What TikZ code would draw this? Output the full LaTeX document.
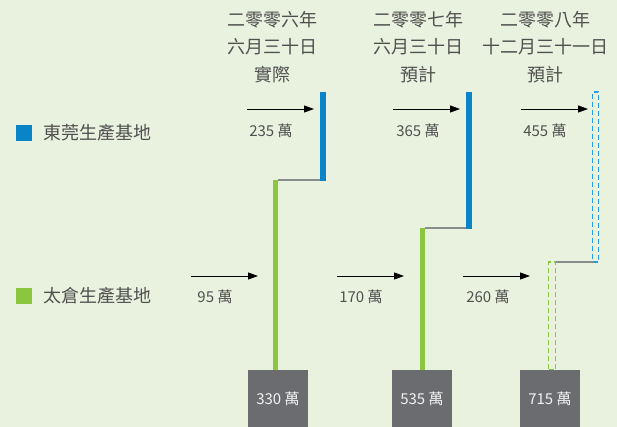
\documentclass[tikz,border=0pt]{standalone}
\usepackage{fontspec}
\setmainfont{Noto Sans CJK TC}
\usetikzlibrary{arrows.meta}
\definecolor{bg}{HTML}{E9F2DE}
\definecolor{dgblue}{HTML}{0A84C9}
\definecolor{dgblued}{HTML}{2C9BDB}
\definecolor{tcgreen}{HTML}{8CC63F}
\definecolor{linkgray}{HTML}{8A8C8A}
\definecolor{boxgray}{HTML}{6B6C70}
\definecolor{txt}{HTML}{505050}
\begin{document}
\begin{tikzpicture}[x=1pt,y=-1pt,
  bar/.style={inner sep=0pt, outer sep=0pt, anchor=north},
  bluebar/.style={bar, fill=dgblue, minimum width=6pt},
  greenbar/.style={bar, fill=tcgreen, minimum width=5pt},
  bluedash/.style={bar, draw=dgblued, line width=1.8pt, dash pattern=on 5pt off 3pt, minimum width=6pt},
  greendash/.style={bar, draw=tcgreen, line width=1.8pt, dash pattern=on 5pt off 3pt, minimum width=7pt},
  link/.style={draw=linkgray, line width=1.2pt},
  flow/.style={draw=black, line width=0.9pt, -{Triangle[length=10pt,width=7pt]}},
  totbox/.style={fill=boxgray, minimum width=60pt, minimum height=57pt, inner sep=0pt, text=white!90!gray, font=\fontsize{15}{15}\selectfont},
  amount/.style={text=txt, font=\fontsize{15}{15}\selectfont, inner sep=0pt},
  head/.style={text=txt, align=center, font=\fontsize{18}{27.5}\selectfont, inner sep=0pt, anchor=north},
  legsq/.style={minimum size=16pt, inner sep=0pt},
  legtxt/.style={text=txt, font=\fontsize{18}{18}\selectfont, anchor=west, inner sep=0pt}
]
\fill[bg] (0,0) rectangle (617,427);
\useasboundingbox (0,0) rectangle (617,427);

% legend
\node[legsq, fill=dgblue] (lb) at (24,133) {};
\node[legtxt] (lbt) at (43,133) {東莞生產基地};
\node[legsq, fill=tcgreen] (lg) at (24,295.5) {};
\node[legtxt] (lgt) at (43,296) {太倉生產基地};

% headers
\node[head] (h1) at (272,11) {二零零六年\\六月三十日\\實際};
\node[head] (h2) at (418,11) {二零零七年\\六月三十日\\預計};
\node[head] (h3) at (545,11) {二零零八年\\十二月三十一日\\預計};

% column 1
\node[bluebar, minimum height=89pt] (b1) at (323,92) {};
\node[greenbar, minimum height=190pt] (g1) at (275.5,180) {};
\draw[link] (g1.north east) -- (g1.north east -| b1.west);
\node[totbox] (t1) at (278,398.5) {330 萬};

% column 2
\node[bluebar, minimum height=137pt] (b2) at (469,92) {};
\node[greenbar, minimum height=142pt] (g2) at (422.5,228) {};
\draw[link] (g2.north east) -- (g2.north east -| b2.west);
\node[totbox] (t2) at (422,398.5) {535 萬};

% column 3
\node[bluedash, minimum height=170pt] (b3) at (595.5,92) {};
\node[greendash, minimum height=108pt] (g3) at (552,262) {};
\draw[link] (g3.north east) -- (g3.north east -| b3.west);
\node[totbox] (t3) at (550,398.5) {715 萬};

% arrows top
\coordinate (ta1) at (247,109); \coordinate (te1) at (314,109);
\coordinate (ta2) at (393,109); \coordinate (te2) at (460,109);
\coordinate (ta3) at (521,109); \coordinate (te3) at (588,109);
\draw[flow] (ta1) -- (te1);
\draw[flow] (ta2) -- (te2);
\draw[flow] (ta3) -- (te3);
\node[amount] (l1) at (271,131) {235 萬};
\node[amount] (l2) at (418,131) {365 萬};
\node[amount] (l3) at (545,131) {455 萬};

% arrows bottom
\coordinate (ba1) at (191,276); \coordinate (be1) at (258,276);
\coordinate (ba2) at (337,276); \coordinate (be2) at (404,276);
\coordinate (ba3) at (463,276); \coordinate (be3) at (530,276);
\draw[flow] (ba1) -- (be1);
\draw[flow] (ba2) -- (be2);
\draw[flow] (ba3) -- (be3);
\node[amount] (m1) at (215,297) {95 萬};
\node[amount] (m2) at (361,297) {170 萬};
\node[amount] (m3) at (488,297) {260 萬};
\end{tikzpicture}
\end{document}
